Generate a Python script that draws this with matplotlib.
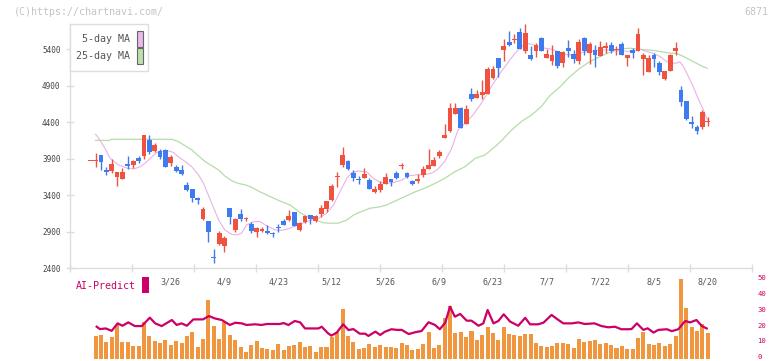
import matplotlib
matplotlib.use("Agg")
import matplotlib.pyplot as plt
import numpy as np
from matplotlib.patches import Rectangle
from matplotlib.transforms import ScaledTranslation

plt.rcParams['font.family'] = ['DejaVu Sans Mono']

W, H = 772, 361

# candles, first one is a partial doji before the window
opens = [3865, 3865, 3950, 3745, 3735, 3655, 3625, 3825, 3815, 3915,
         3935, 4155, 4010, 4010, 4020, 3845, 3790, 3745, 3540, 3485,
         3355, 3070, 3045, 2545, 2730, 2695, 3220, 2920, 3140, 3070,
         3000, 2900, 2910, 2910, 2885, 2955, 3045, 3060, 3165, 2920,
         3025, 3125, 3050, 3140, 3210, 3335, 3650, 3815, 3870, 3700,
         3615, 3640, 3605, 3445, 3475, 3550, 3620, 3700, 3800, 3700,
         3595, 3600, 3675, 3760, 3805, 3940, 4190, 4285, 4515, 4590,
         4370, 4780, 4735, 4775, 4785, 5010, 5285, 5390, 5495, 5530,
         5635, 5370, 5320, 5380, 5550, 5285, 5245, 5375, 5210, 5420,
         5335, 5240, 5560, 5355, 5390, 5310, 5420, 5460, 5390, 5475,
         5285, 5390, 5375, 5265, 5095, 5320, 5215, 4995, 5105, 5375,
         4840, 4690, 4405, 4335, 4340, 4405]
highs = [3865, 3975, 3950, 3790, 3890, 3710, 3775, 3935, 3880, 3935,
         4225, 4225, 4120, 4030, 4030, 3950, 3815, 3815, 3575, 3485,
         3370, 3230, 3045, 2655, 2910, 2845, 3220, 3090, 3210, 3105,
         3035, 2965, 2965, 2990, 2900, 3000, 3070, 3195, 3165, 3035,
         3125, 3125, 3125, 3265, 3320, 3550, 3710, 4065, 3880, 3745,
         3665, 3765, 3630, 3530, 3595, 3700, 3620, 3730, 3835, 3715,
         3605, 3685, 3800, 4035, 3925, 4020, 4375, 4660, 4660, 4605,
         4635, 4865, 4840, 4980, 5160, 5175, 5285, 5540, 5655, 5605,
         5690, 5745, 5450, 5480, 5575, 5405, 5460, 5375, 5375, 5530,
         5390, 5540, 5575, 5495, 5460, 5515, 5495, 5495, 5450, 5495,
         5320, 5415, 5690, 5345, 5320, 5345, 5245, 5100, 5330, 5505,
         4900, 4690, 4485, 4360, 4565, 4465]
lows = [3865, 3790, 3745, 3675, 3700, 3530, 3625, 3760, 3765, 3845,
        3890, 3965, 3995, 3895, 3790, 3805, 3710, 3675, 3455, 3300,
        3280, 3060, 2760, 2475, 2715, 2625, 3005, 2890, 3045, 3045,
        2875, 2830, 2900, 2860, 2830, 2890, 2990, 3045, 2980, 2910,
        3015, 3000, 3025, 3105, 3175, 3320, 3515, 3790, 3745, 3600,
        3550, 3630, 3480, 3435, 3445, 3550, 3530, 3620, 3755, 3630,
        3540, 3560, 3655, 3760, 3805, 3915, 4190, 4270, 4510, 4325,
        4370, 4695, 4735, 4725, 4785, 4995, 5025, 5240, 5445, 5480,
        5405, 5345, 5255, 5300, 5380, 5275, 5185, 5140, 5160, 5300,
        5210, 5200, 5315, 5200, 5160, 5310, 5355, 5355, 5315, 5315,
        5175, 5285, 5375, 5050, 5095, 5160, 5050, 4980, 5105, 5315,
        4625, 4430, 4315, 4240, 4305, 4350]
closes = [3865, 3870, 3860, 3720, 3825, 3710, 3710, 3805, 3870, 3870,
          4225, 3995, 4085, 3925, 3790, 3925, 3735, 3690, 3470, 3355,
          3330, 3210, 2900, 2535, 2875, 2815, 3105, 3070, 3070, 3080,
          2910, 2945, 2935, 2875, 2860, 2950, 2990, 3115, 2980, 3020,
          3115, 3070, 3115, 3220, 3320, 3525, 3655, 3950, 3760, 3640,
          3610, 3690, 3485, 3485, 3555, 3655, 3585, 3640, 3805, 3650,
          3550, 3620, 3760, 3815, 3880, 3995, 4225, 4590, 4590, 4325,
          4580, 4725, 4780, 4810, 5130, 5130, 5150, 5445, 5460, 5545,
          5405, 5620, 5265, 5460, 5380, 5330, 5320, 5175, 5360, 5375,
          5265, 5505, 5375, 5475, 5315, 5425, 5445, 5370, 5405, 5315,
          5320, 5345, 5610, 5320, 5285, 5265, 5095, 5100, 5320, 5420,
          4680, 4445, 4375, 4285, 4535, 4415]

date_pos = [14, 24, 34, 44, 54, 64, 74, 84, 94, 104, 114]
date_labels = ['3/26', '4/9', '4/23', '5/12', '5/26', '6/9', '6/23', '7/7', '7/22', '8/5', '8/20']

ma5_x = [0, 0.8, 1.75, 2.7, 4.2, 6.1, 7.2, 8.3, 9.2, 10.5, 11.4, 12.6, 13.6, 14.5, 15.4, 16.7,
         17.9, 19.2, 20.1, 21.0, 22.0, 22.9, 24.1, 25.4, 26.3, 27.2, 28.1, 29.4, 30.5, 32.0,
         33.5, 34.9, 36.2, 37.5, 38.7, 40.2, 41.5, 43.0, 44.3, 45.5, 46.8, 47.7, 48.9, 50.5,
         51.7, 53.0, 54.2, 55.5, 57.0, 58.3, 59.5, 61.3, 62.6, 63.8, 65.0, 66.3, 67.5, 68.8,
         70.3, 71.6, 72.8, 74.1, 75.3, 76.9, 78.1, 79.0, 80.0, 81.2, 82.4, 83.7, 85.0, 85.9,
         87.5, 89.3, 90.8, 92.4, 93.9, 95.5, 97.0, 98.6, 100.2, 101.4, 102.6, 103.9, 105.1,
         106.4, 107.3, 108.2, 108.8, 109.5, 110.4, 111.3, 112.2, 113.2, 113.8, 114.1]
ma5_y = [4235, 4155, 4040, 3905, 3815, 3765, 3760, 3790, 3835, 3925, 3985, 4005, 4005, 3985, 3925, 3860,
         3790, 3675, 3560, 3400, 3220, 3060, 2920, 2860, 2855, 2880, 2990, 3035, 3040, 2975,
         2920, 2920, 2945, 2990, 3020, 3060, 3080, 3150, 3265, 3445, 3630, 3710, 3730, 3720,
         3630, 3575, 3560, 3575, 3605, 3665, 3675, 3685, 3700, 3760, 3860, 4040, 4295, 4385,
         4500, 4635, 4775, 4935, 5070, 5230, 5345, 5415, 5480, 5470, 5435, 5415, 5400, 5375,
         5330, 5320, 5360, 5375, 5390, 5390, 5380, 5375, 5370, 5400, 5370, 5345, 5300,
         5230, 5210, 5210, 5230, 5160, 5025, 4885, 4725, 4565, 4455, 4415]

ma25_x = [0, 2.6, 2.8, 14.2, 15.4, 16.7, 17.9, 19.2, 20.4, 21.7, 22.9, 24.1, 25.4, 26.6, 27.9,
          28.8, 30.6, 32.5, 34.3, 36.2, 37.8, 39.3, 40.9, 42.4, 43.7, 45.2, 46.8, 48.0, 49.2,
          51.1, 53.0, 54.2, 55.8, 57.6, 59.5, 61.3, 63.2, 65.0, 66.9, 68.8, 70.7, 72.5, 74.4,
          75.7, 77.5, 79.4, 81.2, 83.0, 84.6, 86.5, 88.3, 90.2, 92.0, 93.9, 95.8, 97.6, 99.5,
          101.4, 103.2, 105.1, 107.3, 108.2, 109.5, 111.3, 113.2, 113.9]
ma25_y = [4150, 4150, 4165, 4165, 4135, 4075, 4020, 3935, 3860, 3800, 3745, 3660, 3595, 3560, 3540,
          3515, 3445, 3380, 3320, 3265, 3175, 3105, 3060, 3020, 3015, 3015, 3060, 3125, 3165,
          3220, 3240, 3265, 3320, 3380, 3445, 3495, 3560, 3630, 3720, 3790, 3905, 3950, 4065,
          4155, 4295, 4415, 4500, 4615, 4765, 4885, 5025, 5140, 5230, 5300, 5360, 5405, 5415,
          5400, 5390, 5370, 5345, 5345, 5300, 5230, 5160, 5140]

volume = [14.2, 14.8, 10.4, 13.5, 21.1, 10.4, 10.4, 7.9, 7.9, 22.9,
          14.2, 11.0, 9.7, 11.6, 8.5, 11.0, 9.7, 14.2, 16.7, 7.2,
          12.3, 36.8, 20.4, 12.3, 22.9, 14.8, 11.6, 7.2, 4.1, 8.5,
          11.0, 6.6, 6.0, 5.4, 9.1, 5.4, 7.9, 8.5, 10.4, 7.2,
          7.9, 4.1, 7.2, 7.2, 13.5, 16.7, 31.1, 14.2, 10.4, 6.0,
          6.6, 9.1, 7.2, 8.5, 7.2, 7.2, 6.6, 9.7, 8.5, 5.4,
          6.0, 9.1, 16.7, 6.6, 8.5, 25.5, 32.9, 16.0, 16.7, 13.5,
          17.3, 11.6, 14.8, 19.8, 16.0, 11.6, 19.8, 15.4, 14.8, 14.2,
          15.4, 15.4, 9.7, 7.9, 7.2, 7.9, 9.7, 9.7, 9.1, 6.6,
          12.3, 10.4, 11.0, 11.6, 9.1, 9.7, 8.5, 6.6, 7.9, 6.0,
          6.0, 12.9, 16.7, 9.1, 8.5, 9.7, 7.9, 9.1, 14.2, 50.0,
          31.8, 19.8, 17.3, 21.7, 16.0]

ai_x = [0.2, 0.8, 1.9, 3.0, 4.1, 5.0, 6.1, 7.3, 8.6, 10.1,
        11.1, 12.3, 14.2, 15.1, 16.0, 17.0, 18.2, 20.0, 21.1, 22.2,
        23.5, 25.0, 26.0, 27.2, 28.1, 29.7, 30.9, 31.9, 33.4, 34.3,
        35.0, 35.9, 37.1, 38.1, 39.0, 40.2, 41.5, 42.1, 43.3, 43.9,
        44.9, 46.1, 47.1, 48.0, 49.2, 50.2, 50.8, 52.1, 53.0, 53.9,
        55.1, 56.1, 57.0, 58.3, 59.5, 60.7, 62.0, 63.2, 64.1, 65.1,
        66.0, 66.9, 67.9, 69.1, 70.0, 71.3, 72.2, 73.0, 74.1, 75.0,
        76.0, 77.2, 78.7, 80.0, 80.9, 82.4, 83.4, 84.9, 86.2, 87.1,
        88.7, 89.9, 91.1, 92.9, 94.2, 95.5, 96.7, 97.9, 99.2, 99.8,
        100.8, 102.0, 102.8, 103.9, 104.8, 106.4, 107.3, 108.5, 109.8, 110.7,
        111.9, 112.9, 113.8]
ai_v = [20.0, 18.5, 18.9, 17.4, 22.1, 20.6, 22.7, 20.4, 20.4, 25.7,
        22.1, 20.4, 24.2, 21.1, 22.1, 20.6, 24.6, 24.6, 26.7, 25.2,
        24.2, 21.1, 22.5, 22.1, 21.1, 21.5, 21.1, 21.7, 21.7, 21.7,
        22.3, 21.1, 23.6, 22.7, 18.9, 18.9, 18.9, 20.0, 15.8, 14.4,
        16.3, 21.5, 17.9, 18.5, 15.6, 15.6, 14.2, 16.9, 14.8, 16.9,
        18.4, 18.0, 18.0, 15.4, 16.5, 17.3, 22.8, 21.1, 18.4, 22.5,
        32.6, 26.3, 28.0, 23.8, 23.8, 20.6, 22.1, 30.5, 22.1, 23.6,
        27.8, 23.2, 20.6, 25.6, 21.5, 21.5, 22.5, 27.4, 24.2, 22.1,
        22.1, 22.7, 21.7, 22.1, 20.4, 19.6, 20.0, 18.4, 18.4, 18.5,
        22.1, 18.0, 19.0, 16.3, 18.0, 18.4, 17.2, 18.4, 23.6, 22.7,
        24.2, 20.4, 18.9]

RED = '#EF5340'
BLUE = '#3F7BEE'
GRID = '#DDDDDD'
CRIMSON = '#CC0066'


def px_axes(fig, left, top, right, bottom):
    return fig.add_axes([left / W, 1 - bottom / H, (right - left) / W, (bottom - top) / H])


fig = plt.figure(figsize=(W / 100, H / 100), dpi=100)
fig.patch.set_facecolor('white')

xlim = (-4.71, 122.29)

# price panel
ax = px_axes(fig, 70.3, 24, 752.3, 268)
ax.set_xlim(*xlim)
ax.set_ylim(2400, 5747)

o = np.array(opens)
c = np.array(closes)
x = np.arange(len(o)) - 1
cols = [RED if cc >= oo else BLUE for oo, cc in zip(o, c)]
ax.vlines(x, lows, highs, colors=cols, linewidth=1.0, zorder=3)
ax.bar(x, np.maximum(np.abs(c - o), 12), bottom=np.minimum(o, c), width=0.9,
       color=cols, linewidth=0, zorder=4)

ax.plot(ma25_x, ma25_y, color='#B5DDA8', linewidth=0.9, zorder=2)
ax.plot(ma5_x, ma5_y, color='#E8B2E8', linewidth=0.8, zorder=2)

for s in ['top', 'right']:
    ax.spines[s].set_visible(False)
for s in ['left', 'bottom']:
    ax.spines[s].set_color(GRID)
    ax.spines[s].set_linewidth(1.0)

ax.set_yticks(np.arange(2400, 5401, 500))
ax.tick_params(axis='y', direction='inout', length=6, width=1, color=GRID,
               labelsize=5.5, labelcolor='#444444', pad=4)
ax.set_xticks(np.linspace(xlim[0], xlim[1], 12))
ax.set_xticklabels([])
ax.set_xticks(date_pos, minor=True)
ax.set_xticklabels(date_labels, minor=True)
ax.tick_params(axis='x', which='major', direction='inout', length=6, width=1, color=GRID)
ax.tick_params(axis='x', which='minor', length=0, labelsize=6, labelcolor='#555555', pad=6.5)
ax.set_facecolor('none')

# legend box
fig.add_artist(Rectangle((70.3 / W, 1 - 71 / H), 78 / W, 46.7 / H, transform=fig.transFigure,
                         facecolor='white', edgecolor=GRID, linewidth=1.0, zorder=10))
fig.text(130 / W, 1 - 38.8 / H, '5-day MA', ha='right', va='center', fontsize=7.2,
         color='#555555', zorder=11)
fig.text(130 / W, 1 - 55.8 / H, '25-day MA', ha='right', va='center', fontsize=7.2,
         color='#555555', zorder=11)
fig.add_artist(Rectangle((136.7 / W, 1 - 46.7 / H), 6 / W, 15.5 / H, transform=fig.transFigure,
                         facecolor='#EAB8EA', edgecolor='#666666', linewidth=0.8, zorder=11))
fig.add_artist(Rectangle((136.7 / W, 1 - 63.5 / H), 6 / W, 15.5 / H, transform=fig.transFigure,
                         facecolor='#BCDFAE', edgecolor='#666666', linewidth=0.8, zorder=11))

# AI-Predict panel
ax2 = px_axes(fig, 70.3, 270, 752.3, 358.5)
ax2.set_xlim(*xlim)
ax2.set_ylim(0, 88.5 / 1.59)
ax2.bar(np.arange(len(volume)), volume, width=0.75, color='#F0963E', linewidth=0)
ax2.plot(ai_x, ai_v, color=CRIMSON, linewidth=1.6)
for s in ax2.spines.values():
    s.set_visible(False)
ax2.set_xticks([])
ax2.set_yticks(np.arange(0, 51, 10))
ax2.yaxis.tick_right()
ax2.tick_params(axis='y', length=0, labelsize=5.2, labelcolor=CRIMSON, pad=3.5)
ax2.set_facecolor('none')
for lab in ax2.get_yticklabels():
    lab.set_transform(lab.get_transform() + ScaledTranslation(0, 1.2 / 72, fig.dpi_scale_trans))

fig.text(76 / W, 1 - 286 / H, 'AI-Predict', ha='left', va='center', fontsize=7.2, color=CRIMSON)
fig.add_artist(Rectangle((142.3 / W, 1 - 293.3 / H), 6.5 / W, 16 / H, transform=fig.transFigure,
                         facecolor=CRIMSON, edgecolor='none'))

fig.text(14 / W, 1 - 12 / H, '(C)https://chartnavi.com/', ha='left', va='center',
         fontsize=7.2, color='#C4C4C4')
fig.text(768 / W, 1 - 12 / H, '6871', ha='right', va='center', fontsize=7.2, color='#C4C4C4')

fig.savefig('out.png', dpi=100)
